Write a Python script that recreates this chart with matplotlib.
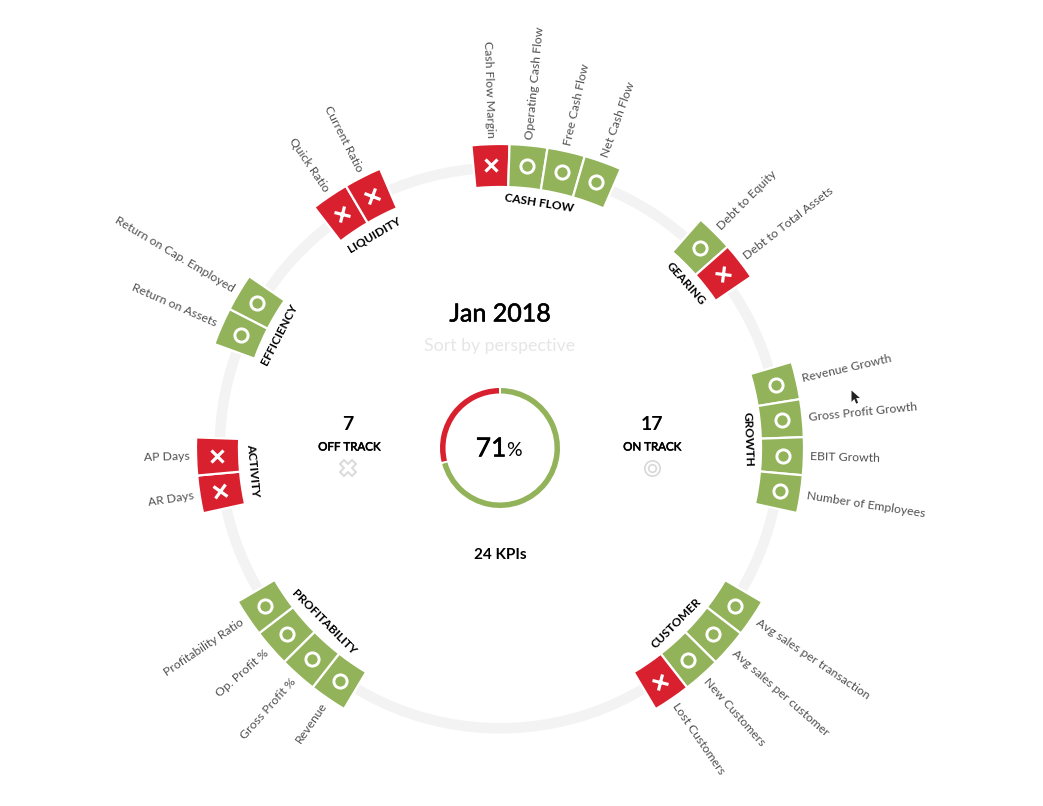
import numpy as np
import matplotlib
matplotlib.use("Agg")
import matplotlib.pyplot as plt
import matplotlib.patheffects as pe
from matplotlib.markers import MarkerStyle
from matplotlib.path import Path
from matplotlib.transforms import Affine2D

plt.rcParams["font.family"] = ["Lato", "DejaVu Sans"]

# perspectives and their KPIs, clockwise round the ring
perspectives = ["CASH FLOW", "GEARING", "GROWTH", "CUSTOMER",
                "PROFITABILITY", "ACTIVITY", "EFFICIENCY", "LIQUIDITY"]
kpi_names = [
    ["Cash Flow Margin", "Operating Cash Flow", "Free Cash Flow", "Net Cash Flow"],
    ["Debt to Equity", "Debt to Total Assets"],
    ["Revenue Growth", "Gross Profit Growth", "EBIT Growth", "Number of Employees"],
    ["Avg sales per transaction", "Avg sales per customer", "New Customers", "Lost Customers"],
    ["Revenue", "Gross Profit %", "Op. Profit %", "Profitability Ratio"],
    ["AR Days", "AP Days"],
    ["Return on Assets", "Return on Cap. Employed"],
    ["Quick Ratio", "Current Ratio"],
]
# 1 = on track, 0 = off track
kpi_status = [
    [0, 1, 1, 1],
    [1, 0],
    [1, 1, 1, 1],
    [1, 1, 1, 0],
    [1, 1, 1, 1],
    [0, 0],
    [1, 1],
    [0, 0],
]
center_angles = [81.0, 41.5, 2.05, -44.8, 224.75, 185.2, 152.8, 120.45]

on_track = 17
off_track = 7
total_kpis = 24
score_pct = 71

GREEN = "#92b35a"
RED = "#d9202e"
W, H = 1043, 806
CX, CY = 500, 448
RMAX = 450
STEP = 7.2

# thin outline to fake the medium weight that Lato lacks here
medium = [pe.withStroke(linewidth=0.4, foreground="black")]

fig = plt.figure(figsize=(W / 100, H / 100), dpi=100, facecolor="white")
ax = fig.add_axes([(CX - RMAX) / W, (H - CY - RMAX) / H, 2 * RMAX / W, 2 * RMAX / H],
                  projection="polar")
ax.set_ylim(0, RMAX)
ax.set_axis_off()

# background ring
ax.bar(np.pi, 10.5, width=2 * np.pi, bottom=275, color="#f3f3f3", linewidth=0, zorder=1)

for name, kpis, stats, center in zip(perspectives, kpi_names, kpi_status, center_angles):
    n = len(kpis)
    for i, (kpi, st) in enumerate(zip(kpis, stats)):
        a = center + STEP * (n - 1) / 2 - i * STEP
        t = np.deg2rad(a)
        ax.bar(t, 43, width=np.deg2rad(STEP), bottom=261, color=GREEN if st else RED,
               edgecolor="white", linewidth=1.6, zorder=2)
        if st:
            ax.plot([t], [283], marker="o", ms=9.5, mfc="none", mec="white", mew=2.1, zorder=3)
        else:
            m = MarkerStyle("x", transform=Affine2D().rotate_deg(a - 90))
            ax.plot([t], [283], marker=m, ms=8.5, mec="white", mew=2.3, zorder=3)
        # labels point outward, flipped on the left so they stay readable
        a_norm = a % 360
        left_side = 90 < a_norm < 270
        ax.text(t, 310, kpi, rotation=a - 180 if left_side else a, rotation_mode="anchor",
                ha="right" if left_side else "left", va="center", fontsize=8.85, color="#505050")
    a_norm = center % 360
    rot = center - 90 if a_norm < 180 or a_norm > 355 else center + 90
    ax.text(np.deg2rad(center), 248, name, rotation=rot, rotation_mode="anchor",
            ha="center", va="center", fontsize=8.6, fontweight="bold", color="black")

# score donut, clockwise from the top
gap = 1.0
green_span = 360 * score_pct / 100
ax.bar(np.deg2rad(90 - green_span / 2), 5.5, width=np.deg2rad(green_span - 2 * gap), bottom=54.5,
       color=GREEN, linewidth=0, zorder=2)
red_span = 360 - green_span
ax.bar(np.deg2rad(90 + red_span / 2), 5.5, width=np.deg2rad(red_span - 2 * gap), bottom=54.5,
       color=RED, linewidth=0, zorder=2)

# overlay in pixel coordinates for the centre text and icons
ov = fig.add_axes([0, 0, 1, 1], facecolor="none")
ov.set_xlim(0, W)
ov.set_ylim(H, 0)
ov.set_axis_off()

ov.text(500, 314, "Jan 2018", ha="center", va="center", fontsize=18, color="black", path_effects=medium)
ov.text(500, 346, "Sort by perspective", ha="center", va="center", fontsize=12.8, color="#e6e6e6")
ov.text(491, 449, str(score_pct), ha="center", va="center", fontsize=19, color="black", path_effects=medium)
ov.text(514, 451, "%", ha="center", va="center", fontsize=14, color="black")
ov.text(348, 425, str(off_track), ha="center", va="center", fontsize=14, fontweight="bold", color="black")
ov.text(652, 425, str(on_track), ha="center", va="center", fontsize=14, fontweight="bold", color="black")
ov.text(349, 447, "OFF TRACK", ha="center", va="center", fontsize=8.3, color="black", path_effects=medium)
ov.text(652, 447, "ON TRACK", ha="center", va="center", fontsize=8.3, color="black", path_effects=medium)
ov.text(500, 555, f"{total_kpis} KPIs", ha="center", va="center", fontsize=11, fontweight="bold", color="black")

ov.plot([348], [468], marker="X", ms=12, mfc="none", mec="#d8d8d8", mew=1.3)
ov.plot([652], [468], marker="o", ms=11, mfc="none", mec="#d8d8d8", mew=1.2)
ov.plot([652], [468], marker="o", ms=5.5, mfc="none", mec="#d8d8d8", mew=1.2)

# mouse pointer left in the screenshot
cursor = Path([(0, 0), (0, -12), (3, -9), (5, -14), (7, -13), (5, -8), (9, -8), (0, 0)], closed=True)
ov.plot([851], [390], marker=cursor, ms=19, color="#222222", mew=0)

fig.savefig("out.png", dpi=100, facecolor="white")
